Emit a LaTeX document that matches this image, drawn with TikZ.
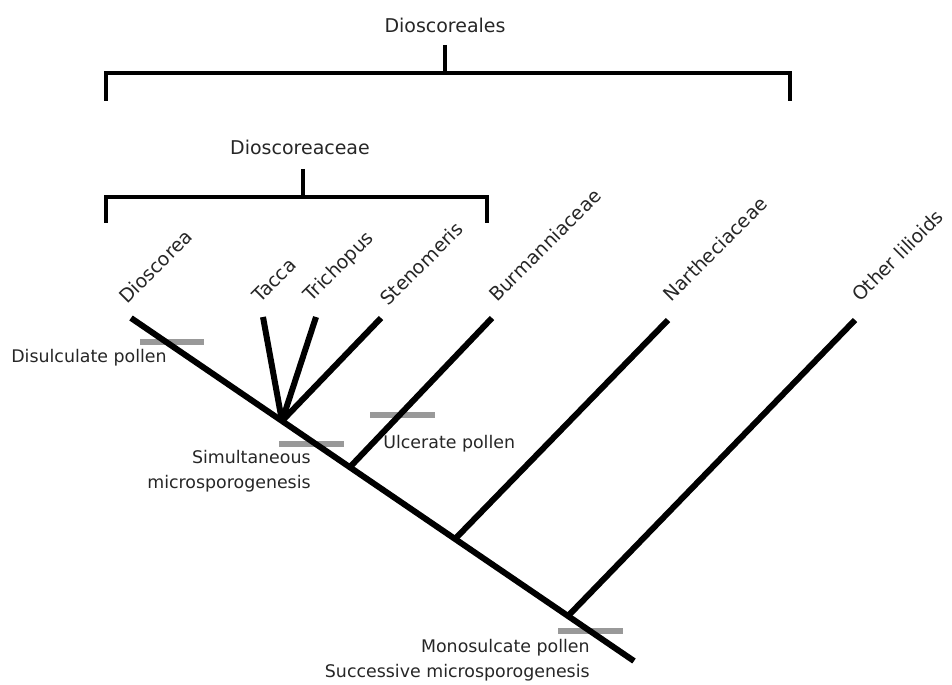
\documentclass[tikz,border=0pt]{standalone}
\usepackage{fontspec}
\setmainfont{DejaVu Sans}
\usepackage{tikz}
\usetikzlibrary{positioning}
\tikzstyle{taxon} = [
  rotate=45, anchor=base west, inner sep=0pt,
  text=black!85
]
\tikzstyle{group} = [
  inner sep=0pt, text=black!85
]
\tikzstyle{trait} = [
  inner sep=0pt, text=black!85, align=right,
  font=\fontsize{9.9}{14.2}\selectfont
]
\tikzstyle{synapo} = [
  rectangle, fill=gray!80, draw=none, inner sep=0pt,
  minimum width=1.3cm, minimum height=0.12cm
]
\tikzset{
  branch/.style={line width=0.12cm, line cap=butt, line join=miter},
  bracket/.style={line width=0.08cm, line cap=butt, line join=miter}
}

\begin{document}
\begin{tikzpicture}[
  x=0.02cm, y=-0.02cm,
  font=\fontsize{10.8}{13}\selectfont
]
\useasboundingbox (0,0) rectangle (952,685);

% ------------------------------------------------
% BRACKETS: Dioscoreales and Dioscoreaceae
% ------------------------------------------------

\node[group] (ordo) at (445,25) {Dioscoreales};
\coordinate (oL) at (106,101);
\coordinate (oR) at (790,101);
\coordinate (oT) at (445,45);
\draw[bracket] (oL) |- (oR |- 0,73) -- (oR);
\draw[bracket] (oT) -- (oT |- 0,73);

\node[group] (fam) at (300,147) {Dioscoreaceae};
\coordinate (fL) at (106,223);
\coordinate (fR) at (487,223);
\coordinate (fT) at (303,169);
\draw[bracket] (fL) |- (fR |- 0,197) -- (fR);
\draw[bracket] (fT) -- (fT |- 0,197);

% ------------------------------------------------
% TIPS (top ends of the branches) and labels
% ------------------------------------------------

\coordinate (tDi) at (131,318);
\coordinate (tTa) at (263,317);
\coordinate (tTr) at (316,317);
\coordinate (tSt) at (381,318);
\coordinate (tBu) at (492,318);
\coordinate (tNa) at (668,320);
\coordinate (tOt) at (855,320);

\node[taxon] (lDi) at ([shift={(-4,-13)}]tDi) {Dioscorea};
\node[taxon] (lTa) at ([shift={(-3,-13)}]tTa) {Tacca};
\node[taxon] (lTr) at ([shift={(-5,-14)}]tTr) {Trichopus};
\node[taxon] (lSt) at ([shift={(7,-11)}]tSt) {Stenomeris};
\node[taxon] (lBu) at ([shift={(5,-15)}]tBu) {Burmanniaceae};
\node[taxon] (lNa) at ([shift={(3,-17)}]tNa) {Nartheciaceae};
\node[taxon] (lOt) at ([shift={(5,-17)}]tOt) {Other lilioids};

% ------------------------------------------------
% CHARACTER BARS (under the branches)
% ------------------------------------------------

\node[synapo] (bDis) at (172,342) {};
\node[synapo] (bSim) at (311,444) {};
\node[synapo] (bUlc) at (402,415) {};
\node[synapo] (bMon) at (590,631) {};

\node[trait, anchor=east] (cDis) at (167,358) {Disulculate pollen};
\node[trait, anchor=east] (cSim) at (311,471) {Simultaneous\\microsporogenesis};
\node[trait, anchor=west] (cUlc) at (383,444) {Ulcerate pollen};
\node[trait, anchor=east] (cMon) at (590,660) {Monosulcate pollen\\Successive microsporogenesis};

% ------------------------------------------------
% TREE: trunk and side branches
% ------------------------------------------------

\coordinate (root) at (634,661);
\coordinate (j1) at (282,421);
\coordinate (j2) at (350,467);
\coordinate (j3) at (455,539);
\coordinate (j4) at (568,616);

\draw[branch] (tDi) -- (root);

% Tacca, Trichopus and Stenomeris from one node
\draw[branch] (j1) -- (tTa);
\draw[branch] (j1) -- (tTr);
\draw[branch] (j1) -- (tSt);

% remaining families
\draw[branch] (j2) -- (tBu);
\draw[branch] (j3) -- (tNa);
\draw[branch] (j4) -- (tOt);

\end{tikzpicture}
\end{document}
